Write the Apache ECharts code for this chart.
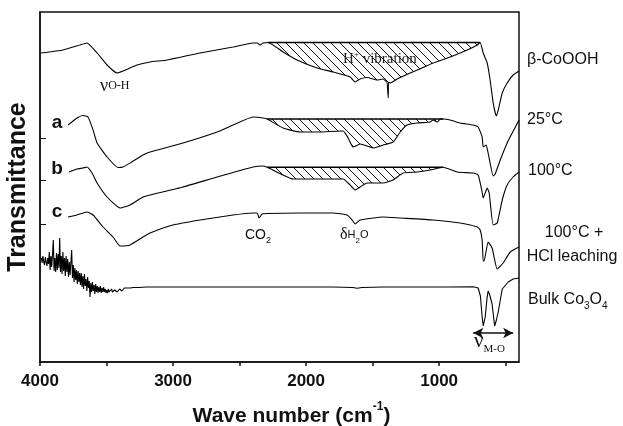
<!DOCTYPE html>
<html>
<head>
<meta charset="utf-8">
<script src="https://cdn.jsdelivr.net/npm/echarts@6/dist/echarts.min.js"></script>
<style>
html, body { margin: 0; padding: 0; background: #fff; }
#chart { width: 623px; height: 426px; }
</style>
</head>
<body>
<div id="chart"></div>
<script>
// 数据：波数 (cm-1) 与相对透过率（任意单位，曲线已纵向平移）
var cooohWave = [3992,3827,3699,3647,3571,3496,3421,3376,3271,3173,3045,2797,2549,2398,2368,2346,2323,2286,2173,2068,1917,1797,1669,1632,1594,1541,1466,1421,1391,1386,1383,1380,1368,1316,1218,1165,1045,917,789,714,692,669,639,617,594,571,556,526,489,444,400];
var cooohT    = [309,312,317,319,309,297,289,291,297,300,302,309,315,319,319,317,319,319.5,310,302,294,290,285,280,283,284.5,282,283,280,280,264,280,279,283,289,292,299,305,312,317,319.5,309,299,282,259,246,252,269,279,287,291];

var aWave = [3789,3722,3677,3639,3601,3571,3496,3414,3376,3323,3226,3173,2925,2669,2549,2398,2323,2293,2173,2045,1917,1722,1684,1647,1594,1541,1496,1421,1346,1293,1241,1165,1068,1045,1015,990,970,917,842,744,707,677,669,647,632,594,579,541,489,451,400];
var aT    = [237,244,246.5,245,232,219,205,194.5,195,199,207,210,219,230,237,245,244,243,234,230,230,231,224,215,218,216,214,217,220,230,237,239,240,242,240,243,243,242,239,237,235,225,215,217,209,186,188,202,219,229,242];

var bWave = [3782,3722,3677,3647,3609,3571,3496,3398,3323,3226,3173,2925,2669,2398,2323,2293,2173,2098,1917,1722,1669,1632,1594,1541,1421,1346,1271,1165,1068,970,865,744,707,677,669,639,624,594,564,526,489,444,400];
var bT    = [190,193,194,195,189,179,165,154,157,165,167,175,185,195,196,194.7,187,183,183,183,177,172,175,179,179,182,189,190,192,194.7,190,189,187,170,164,174,169,137,139,162,177,185,190];

var cWave = [3789,3722,3647,3601,3526,3451,3398,3323,3226,3173,3000,2797,2549,2398,2368,2353,2331,2293,2045,1797,1692,1654,1632,1594,1421,1293,1045,842,767,714,692,677,669,662,632,602,564,519,466,400];
var cT    = [145,147,150,147,135,125,116,117,125,129,137,142,147,149,149,144,148,148.5,149,149,147,142,138,142,145,144,142,139,137,135,132,122,101,101,120,114,93,99,110,115];

var bulkWave = [3990,3984,3978,3972,3966,3960,3954,3948,3942,3936,
    3930,3924,3918,3912,3906,3900,3894,3888,3882,3876,
    3870,3864,3858,3852,3846,3840,3834,3828,3822,3816,
    3810,3804,3798,3792,3786,3780,3774,3768,3762,3756,
    3750,3744,3738,3732,3726,3720,3714,3708,3702,3696,
    3690,3684,3678,3672,3666,3660,3654,3648,3642,3636,
    3630,3624,3618,3612,3606,3600,3594,3588,3582,3576,
    3570,3564,3558,3552,3546,3540,3534,3528,3522,3516,
    3510,3504,3498,3492,3486,3480,3474,3468,3462,3456,
    3450,3444,3438,3432,3426,3420,3414,3408,3402,3396,
    3390,3384,3378,3372,3366,3360,3354,3348,3320,3300,
    3260,3200,3150,3000,2800,2549,2300,2045,1797,1650,
    1616,1580,1421,1165,917,744,707,690,677,669,
    665,654,640,632,620,602,587,583,579,570,
    556,526,481,444,400];
var bulkT = [104,99,106,100,97,105,100,96,104,98,
    110,92,106,95,108,122,91,104,90,109,
    92,108,94,124,90,106,88,110,91,104,
    86,106,90,103,85,100,87,99,112,84,
    97,80,94,82,92,78,91,80,89,77,
    89,75,86,73,88,76,83,71,85,74,
    81,65,79,70,80,71,77,68,78,70,
    76,69,75,70,76,69,74,70,75,70,
    73,69,72,69,73,70,72,69,73,70,
    72,70,72,71,73,70,72,71,73,71,
    73,71,73,72,74,72,73,74,74,74.5,
    74.5,75,75,75,75,75,75,75,75,74.5,
    73.7,74.5,75,75,75,75.3,74,66,45,36,
    36,45,64,71,67,58,40,36,36,42,
    50,73,80,83,84];

// 阴影区：[起点波数, 终点波数, 顶线高度]
var hatchCoooh = [2286, 692, 319.5];
var hatchA = [2293, 970, 243];
var hatchB = [2293, 970, 194.7];

// 坐标轴刻度
var xTicks = [4000, 3500, 3000, 2500, 2000, 1500, 1000, 500];
var xLabels = [4000, 3000, 2000, 1000];
var yTicks = [224, 182, 138];

var sans = '"Liberation Sans", Arial, sans-serif';
var serif = '"Liberation Serif", "Times New Roman", serif';

// 斜线填充
var hatch = document.createElement('canvas');
hatch.width = 9; hatch.height = 9;
var ctx = hatch.getContext('2d');
ctx.strokeStyle = '#111';
ctx.lineWidth = 1;
ctx.beginPath();
for (var k = -9; k <= 9; k += 9) { ctx.moveTo(k, 0); ctx.lineTo(k + 9, 9); }
ctx.stroke();

var pairs = function (w, t) {
    return w.map(function (v, i) { return [v, t[i]]; });
};

var curve = function (name, w, t, extra) {
    var s = {
        name: name, type: 'line', data: pairs(w, t),
        showSymbol: false, smooth: 0.15, silent: true, z: 3,
        lineStyle: { color: '#000', width: 1.1 }
    };
    return Object.assign(s, extra || {});
};

var hatchArea = function (w, t, range) {
    var d = pairs(w, t).filter(function (p) { return p[0] <= range[0] && p[0] >= range[1]; });
    return [{
        type: 'line', data: d, showSymbol: false, smooth: 0.15, silent: true, z: 2,
        lineStyle: { width: 0 },
        areaStyle: { origin: range[2], color: { image: hatch, repeat: 'repeat' }, opacity: 1 }
    }, {
        type: 'line', data: [[range[0], range[2]], [range[1], range[2]]],
        showSymbol: false, silent: true, z: 3,
        lineStyle: { color: '#000', width: 1.4 }
    }];
};

var txt = function (x, y, text, font, align, rich) {
    return {
        type: 'text', x: x, y: y, silent: true, z: 10,
        style: { text: text, font: font, fill: '#111', textAlign: align || 'left', textVerticalAlign: 'middle', rich: rich }
    };
};

var myChart = echarts.init(document.getElementById('chart'));

var option = {
    animation: false,
    grid: {
        left: 40, right: 104, top: 12, bottom: 64, containLabel: false, outerBoundsMode: 'none',
        show: true, borderColor: '#111', borderWidth: 1.5
    },
    xAxis: {
        type: 'value', min: 400, max: 4000, inverse: true,
        name: '{n|Wave number (cm}{s|-1}{n|)}',
        nameLocation: 'middle', nameGap: 39,
        nameTextStyle: {
            padding: [0, 0, 0, 24],
            rich: {
                n: { fontFamily: sans, fontWeight: 'bold', fontSize: 21, color: '#111', lineHeight: 26, verticalAlign: 'bottom' },
                s: { fontFamily: sans, fontWeight: 'bold', fontSize: 12, color: '#111', lineHeight: 26, verticalAlign: 'top' }
            }
        },
        axisLine: { lineStyle: { color: '#111', width: 1.5 } },
        axisTick: { customValues: xTicks, length: 4, lineStyle: { color: '#111', width: 1.5 } },
        axisLabel: {
            customValues: xLabels, margin: 11, fontFamily: sans, fontWeight: 'bold', fontSize: 17, color: '#111',
            formatter: function (v) { return String(v); }
        },
        splitLine: { show: false }
    },
    yAxis: {
        type: 'value', min: 0, max: 350,
        name: 'Transmittance', nameLocation: 'middle', nameGap: 9, nameRotate: 90,
        nameTextStyle: { fontFamily: sans, fontWeight: 'bold', fontSize: 25, color: '#111' },
        axisLine: { lineStyle: { color: '#111', width: 1.5 } },
        axisTick: { customValues: yTicks, inside: true, length: 6, lineStyle: { color: '#111', width: 1 } },
        axisLabel: { show: false },
        splitLine: { show: false }
    },
    series: [].concat(
        hatchArea(cooohWave, cooohT, hatchCoooh),
        hatchArea(aWave, aT, hatchA),
        hatchArea(bWave, bT, hatchB),
        [
            curve('β-CoOOH', cooohWave, cooohT),
            curve('25°C', aWave, aT),
            curve('100°C', bWave, bT),
            curve('100°C + HCl leaching', cWave, cT),
            curve('Bulk Co3O4', bulkWave, bulkT, {
                smooth: false,
                markLine: {
                    silent: true, symbol: ['arrow', 'arrow'], symbolSize: [8, 10],
                    label: { show: false },
                    lineStyle: { color: '#111', width: 1.5, type: 'solid' },
                    data: [[{ coord: [744, 29] }, { coord: [444, 29] }]]
                }
            })
        ]
    ),
    graphic: [
        txt(527, 60, 'β-CoOOH', '16px ' + sans),
        txt(527, 120, '25°C', '16px ' + sans),
        txt(528, 171, '100°C', '16px ' + sans),
        txt(574, 233, '100°C +', '16px ' + sans, 'center'),
        txt(572, 257, 'HCl leaching', '16px ' + sans, 'center'),
        txt(528, 300, '{m|Bulk Co}{s|3}{m|O}{s|4}', '16px ' + sans, 'left', {
            m: { fontFamily: sans, fontSize: 16, lineHeight: 22, verticalAlign: 'middle', fill: '#111' },
            s: { fontFamily: sans, fontSize: 10, lineHeight: 22, verticalAlign: 'bottom', fill: '#111' }
        }),
        txt(57, 123, 'a', 'bold 19px ' + sans, 'center'),
        txt(57, 169, 'b', 'bold 19px ' + sans, 'center'),
        txt(57, 212, 'c', 'bold 19px ' + sans, 'center'),
        txt(100, 86, '{v|ν}{s|O-H}', '16px ' + serif, 'left', {
            v: { fontFamily: serif, fontSize: 18, lineHeight: 20, verticalAlign: 'middle', fill: '#111' },
            s: { fontFamily: serif, fontSize: 12, lineHeight: 20, verticalAlign: 'middle', fill: '#111' }
        }),
        txt(343, 59, '{m|H}{p|+}{m| vibration}', '15px ' + serif, 'left', {
            m: { fontFamily: serif, fontSize: 15, lineHeight: 18, verticalAlign: 'middle', fill: '#222' },
            p: { fontFamily: serif, fontSize: 9, lineHeight: 18, verticalAlign: 'top', fill: '#222' }
        }),
        txt(245, 235, '{m|CO}{s|2}', '14px ' + sans, 'left', {
            m: { fontFamily: sans, fontSize: 14, lineHeight: 20, verticalAlign: 'middle', fill: '#111' },
            s: { fontFamily: sans, fontSize: 9, lineHeight: 20, verticalAlign: 'bottom', fill: '#111' }
        }),
        txt(340, 235, '{d|δ}{m|H}{s|2}{m|O}', '15px ' + serif, 'left', {
            d: { fontFamily: serif, fontSize: 16, lineHeight: 20, verticalAlign: 'middle', fill: '#111' },
            m: { fontFamily: sans, fontSize: 11, lineHeight: 20, verticalAlign: 'middle', fill: '#111' },
            s: { fontFamily: sans, fontSize: 8, lineHeight: 20, verticalAlign: 'bottom', fill: '#111' }
        }),
        txt(474, 343, '{v|ν}{s|M-O}', '20px ' + serif, 'left', {
            v: { fontFamily: serif, fontSize: 21, lineHeight: 24, verticalAlign: 'top', fill: '#111' },
            s: { fontFamily: serif, fontSize: 11, lineHeight: 24, verticalAlign: 'bottom', fill: '#111' }
        })
    ]
};

myChart.setOption(option);
</script>
</body>
</html>
